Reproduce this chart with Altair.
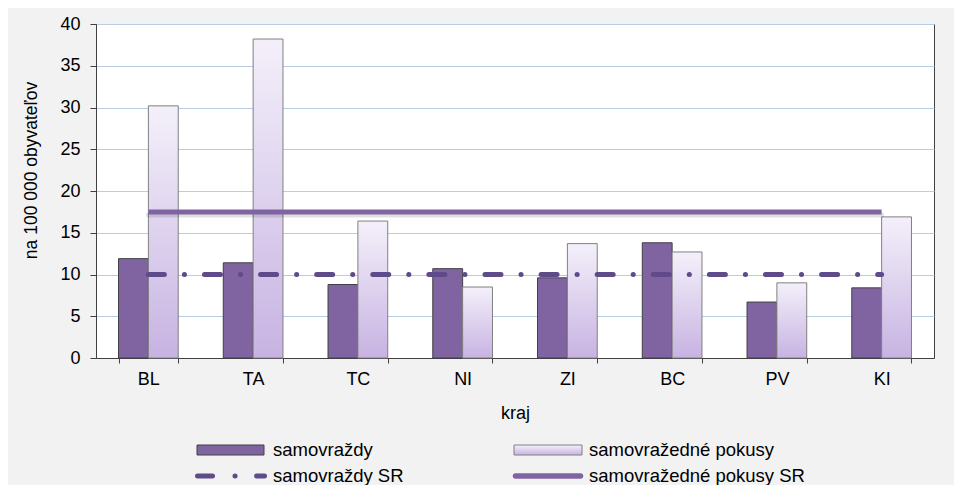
import altair as alt
import pandas as pd

kraje = ["BL", "TA", "TC", "NI", "ZI", "BC", "PV", "KI"]
samovrazdy = [11.9, 11.4, 8.8, 10.7, 9.6, 13.8, 6.7, 8.4]
pokusy = [30.2, 38.2, 16.4, 8.5, 13.7, 12.7, 9.0, 16.9]
sr_samovrazdy = 10.0
sr_pokusy = 17.5

T1 = "samovraždy"
T2 = "samovražedné pokusy"
FONT = "Liberation Sans"

rows = []
for k, a, b in zip(kraje, samovrazdy, pokusy):
    rows.append({"kraj": k, "typ": T1, "v": a})
    rows.append({"kraj": k, "typ": T2, "v": b})
df = pd.DataFrame(rows)
df_sr = pd.DataFrame({"kraj": kraje, "sam": [sr_samovrazdy] * len(kraje), "pok": [sr_pokusy] * len(kraje)})
one = pd.DataFrame({"a": [0]})

xenc = alt.X("kraj:N", sort=kraje,
             scale=alt.Scale(paddingInner=0.43, paddingOuter=0.215),
             axis=alt.Axis(title="kraj", tickBand="extent", labelAngle=0, tickSize=5,
                           labelPadding=7, labelFontSize=18, titleFontSize=18,
                           titleY=60, titleBaseline="alphabetic",
                           labelFont=FONT, titleFont=FONT, titleFontWeight="normal",
                           domainColor="#404040", tickColor="#404040", labelColor="#000", titleColor="#000"))
yscale = alt.Scale(domain=[0, 40], nice=False)
yenc = alt.Y("v:Q", scale=yscale,
             axis=alt.Axis(title="na 100 000 obyvateľov", values=list(range(0, 41, 5)), tickSize=6,
                           labelPadding=10, labelFontSize=18, titleFontSize=17.5,
                           titleX=-65, titleY=146, titleBaseline="middle", titleAlign="center", titleAngle=270,
                           labelFont=FONT, titleFont=FONT, titleFontWeight="normal",
                           gridColor="#b8cce4", gridWidth=1, domainColor="#404040", tickColor="#404040",
                           labelColor="#000", titleColor="#000"))
xoff = alt.XOffset("typ:N", sort=[T1, T2], scale=alt.Scale(domain=[T1, T2], paddingInner=0, paddingOuter=0))

grad = alt.Gradient(gradient="linear",
                    stops=[alt.GradientStop(color="#f4f0fa", offset=0),
                           alt.GradientStop(color="#c7b3e2", offset=1)],
                    x1=0, x2=0, y1=0, y2=1)

bars1 = alt.Chart(df).transform_filter(alt.datum.typ == T1).mark_bar(
    color="#8064a2", stroke="#404040", strokeWidth=1).encode(x=xenc, y=yenc, xOffset=xoff)
bars2 = alt.Chart(df).transform_filter(alt.datum.typ == T2).mark_bar(
    color=grad, stroke="#808080", strokeWidth=1).encode(x=xenc, y=yenc, xOffset=xoff)

shadow = alt.Chart(df_sr).mark_line(color="#000000", opacity=0.12, strokeWidth=5, yOffset=3, strokeCap="round").encode(
    x=alt.X("kraj:N", sort=kraje), y=alt.Y("pok:Q", scale=yscale))
line_pok = alt.Chart(df_sr).mark_line(color="#8064a2", strokeWidth=5).encode(
    x=alt.X("kraj:N", sort=kraje), y=alt.Y("pok:Q", scale=yscale))
line_sam = alt.Chart(df_sr).mark_line(color="#5f4a8a", strokeWidth=5, strokeCap="round",
                                       strokeDash=[16, 20, 0.1, 20]).encode(
    x=alt.X("kraj:N", sort=kraje), y=alt.Y("sam:Q", scale=yscale))

# legend
ly1, ly2 = 426, 452
leg = [
    alt.Chart(one).mark_rect(color="#8064a2", stroke="#404040", strokeWidth=1).encode(
        x=alt.value(101), x2=alt.value(168), y=alt.value(ly1 - 5), y2=alt.value(ly1 + 5)),
    alt.Chart(one).mark_rect(color=grad, stroke="#808080", strokeWidth=1).encode(
        x=alt.value(418), x2=alt.value(486), y=alt.value(ly1 - 5), y2=alt.value(ly1 + 5)),
    alt.Chart(one).mark_rule(color="#5f4a8a", strokeWidth=5, strokeCap="round",
                             strokeDash=[15, 22.5, 0.1, 21.5]).encode(
        x=alt.value(101.5), x2=alt.value(168.5), y=alt.value(ly2)),
    alt.Chart(one).mark_rule(color="#8064a2", strokeWidth=5.5, strokeCap="round").encode(
        x=alt.value(419.5), x2=alt.value(484.5), y=alt.value(ly2)),
]
for tx, ty, t in [(177, ly1, T1), (493, ly1, T2), (177, ly2, "samovraždy SR"), (493, ly2, "samovražedné pokusy SR")]:
    leg.append(alt.Chart(one).mark_text(text=t, align="left", baseline="middle", fontSize=18.5,
                                        font=FONT, color="#000").encode(x=alt.value(tx), y=alt.value(ty)))

chart = alt.layer(bars1, bars2, shadow, line_pok, line_sam, *leg).properties(
    width=838, height=334,
    background="#f2f2f2",
    padding={"left": 88, "top": 16, "right": 20, "bottom": 127},
    autosize=alt.AutoSizeParams(type="none"),
).configure_view(stroke="#404040", strokeWidth=1, fill="#ffffff")

chart.save("out.html", embed_options={"renderer": "svg", "actions": False})
